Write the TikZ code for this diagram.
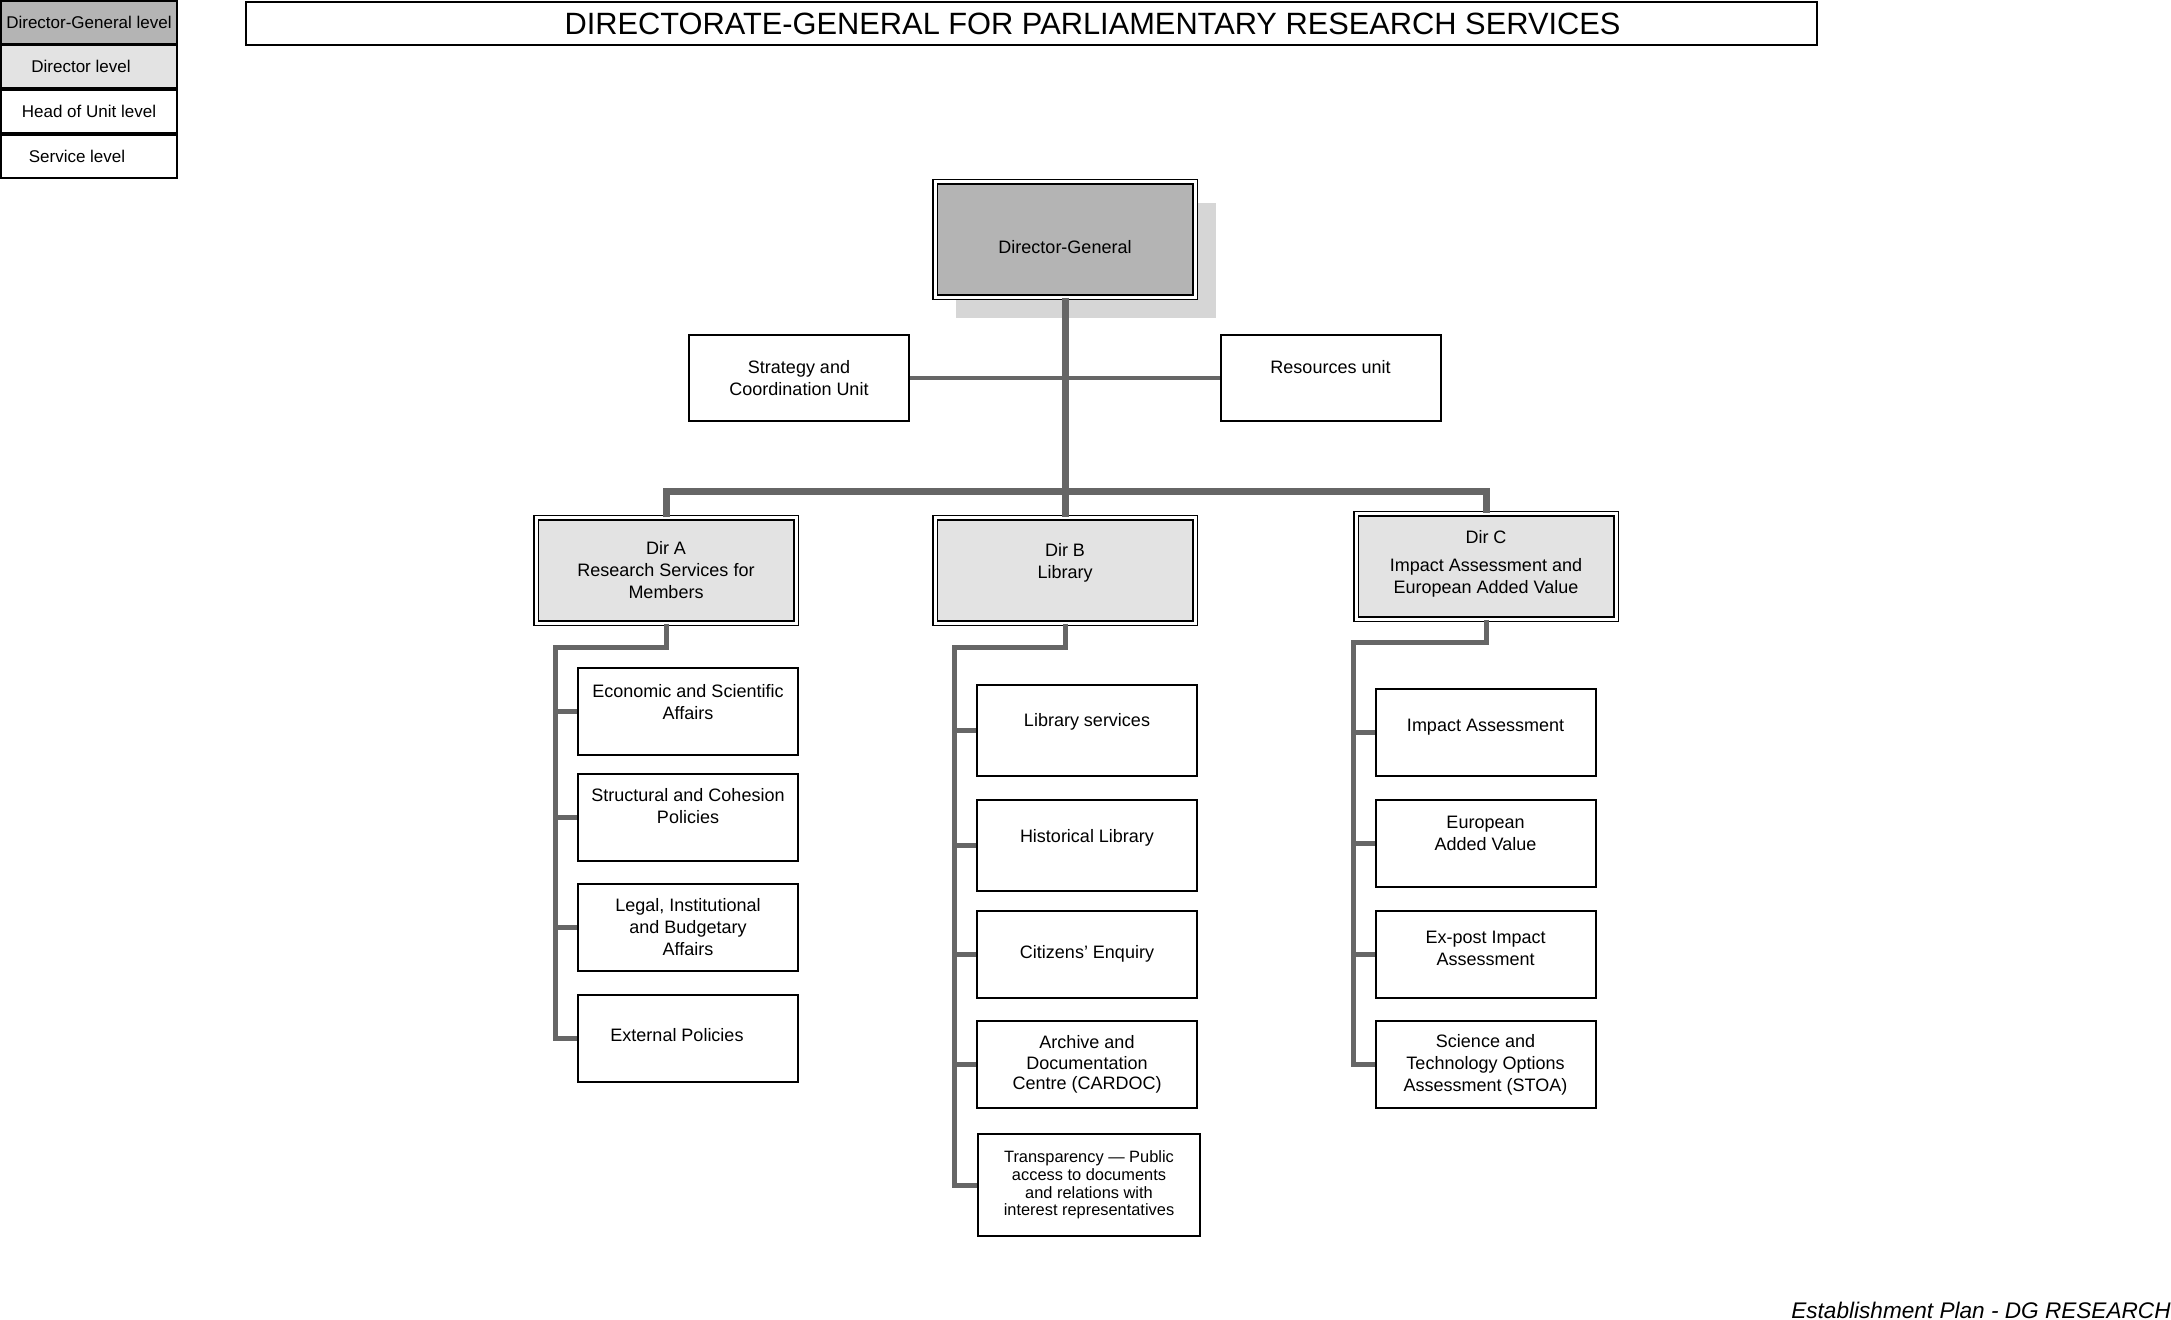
\documentclass[tikz,border=0pt]{standalone}
\usepackage{fontspec}
\setmainfont{Liberation Sans}
\usetikzlibrary{shadows}
\definecolor{dggrey}{HTML}{B4B4B4}
\definecolor{dirgrey}{HTML}{E3E3E3}
\definecolor{shadowgrey}{HTML}{D6D6D6}
\definecolor{linkgrey}{HTML}{666666}
\tikzset{
  unit/.style={rectangle, draw=black, line width=1pt, fill=white,
    minimum width=110pt, minimum height=43.5pt, align=center,
    font=\fontsize{9}{11}\selectfont, inner sep=2pt},
  blockDir/.style={unit, fill=dirgrey, line width=0.7pt, double=white,
    double distance=1.5pt, minimum width=130pt, minimum height=52.6pt},
  blockDG/.style={blockDir, fill=dggrey, minimum height=57.6pt,
    drop shadow={shadow xshift=10.5pt, shadow yshift=-10.5pt, fill=shadowgrey, opacity=1}},
  legend/.style={rectangle, draw=black, line width=1pt, minimum width=88pt,
    minimum height=21.5pt, font=\fontsize{8.5}{10}\selectfont, inner sep=1pt},
  trunk/.style={draw=linkgrey, line width=3.5pt},
  branch/.style={draw=linkgrey, line width=2.5pt},
  link/.style={draw=linkgrey, line width=1.8pt},
  lift/.style={text depth=#1},
}

\begin{document}
\begin{tikzpicture}[x=0.5pt, y=-0.5pt]
\useasboundingbox (0,0) rectangle (2171,1319);

% legend
\node[legend, fill=dggrey] (lgdg) at (89,22) {Director-General level};
\node[legend, fill=dirgrey] (lgdir) at (89,66.5) {\hspace*{-8pt}Director level};
\node[legend] (lghu) at (89,111.5) {Head of Unit level};
\node[legend] (lgsv) at (89,156) {\hspace*{-12pt}Service level};

\node[rectangle, draw=black, line width=1pt, minimum width=785.5pt, minimum height=21.5pt,
  font=\fontsize{15.4}{17}\selectfont] (title) at (1031.5,23.5)
  {\hspace*{61pt}DIRECTORATE-GENERAL FOR PARLIAMENTARY RESEARCH SERVICES};

% top level
\node[blockDG, text height=13.8pt] (dg) at (1065,239.5) {Director-General};
\node[unit, minimum height=43pt] (strat) at (799,378) {Strategy and\\Coordination Unit};
\node[unit, minimum height=43pt, lift=11pt] (res) at (1330.5,378) {Resources unit};

% directorates
\node[blockDir] (dira) at (666,570.5) {Dir A\\Research Services for\\Members};
\node[blockDir, lift=10pt] (dirb) at (1065,570.5) {Dir B\\Library};
\node[blockDir, lift=5pt] (dirc) at (1486,566.5) {Dir C\\[3pt]Impact Assessment and\\European Added Value};

% Dir A units
\node[unit, lift=9pt] (a1) at (688,711) {Economic and Scientific\\Affairs};
\node[unit, lift=11pt] (a2) at (688,817) {Structural and Cohesion\\Policies};
\node[unit] (a3) at (688,927.5) {Legal, Institutional\\and Budgetary\\Affairs};
\node[unit, lift=4pt] (a4) at (688,1038.5) {\hspace*{-11pt}External Policies};

% Dir B units
\node[unit, minimum height=45.5pt, lift=11pt] (b1) at (1087,730.5) {Library services};
\node[unit, minimum height=45.5pt, lift=10pt] (b2) at (1087,845.5) {Historical Library};
\node[unit] (b3) at (1087,954) {Citizens' Enquiry};
\node[unit, font=\fontsize{9}{10.3}\selectfont] (b4) at (1087,1064.5) {Archive and\\Documentation\\Centre (CARDOC)};
\node[unit, minimum width=111pt, minimum height=51pt, font=\fontsize{8.2}{8.9}\selectfont]
  (b5) at (1089,1185) {Transparency — Public\\access to documents\\and relations with\\interest representatives};

% Dir C units
\node[unit, lift=7pt] (c1) at (1485.5,732.5) {Impact Assessment};
\node[unit, lift=10pt] (c2) at (1485.5,843.5) {European\\Added Value};
\node[unit, lift=6pt] (c3) at (1485.5,954) {Ex-post Impact\\Assessment};
\node[unit] (c4) at (1485.5,1064.5) {Science and\\Technology Options\\Assessment (STOA)};

\node[anchor=base east, inner sep=0pt, font=\fontsize{11.3}{13}\selectfont\itshape]
  (footer) at (2171,1318) {Establishment Plan - DG RESEARCH};

% connectors
\coordinate (bar) at (1065,491);
\coordinate (sa) at (555,647);
\coordinate (sb) at (954,647);
\coordinate (sc) at (1353,642);

\draw[link] (strat.east) -- (res.west);
\draw[trunk] (dg.south) -- (dirb.north);
\draw[trunk] (dira.north) |- (bar) -| (dirc.north);

\draw[branch] (dira.south) |- (sa) |- (a4.west);
\foreach \n in {a1,a2,a3}
  \draw[branch] (sa |- \n.west) -- (\n.west);
\draw[branch] (dirb.south) |- (sb) |- (b5.west);
\foreach \n in {b1,b2,b3,b4}
  \draw[branch] (sb |- \n.west) -- (\n.west);
\draw[branch] (dirc.south) |- (sc) |- (c4.west);
\foreach \n in {c1,c2,c3}
  \draw[branch] (sc |- \n.west) -- (\n.west);
\end{tikzpicture}
\end{document}
